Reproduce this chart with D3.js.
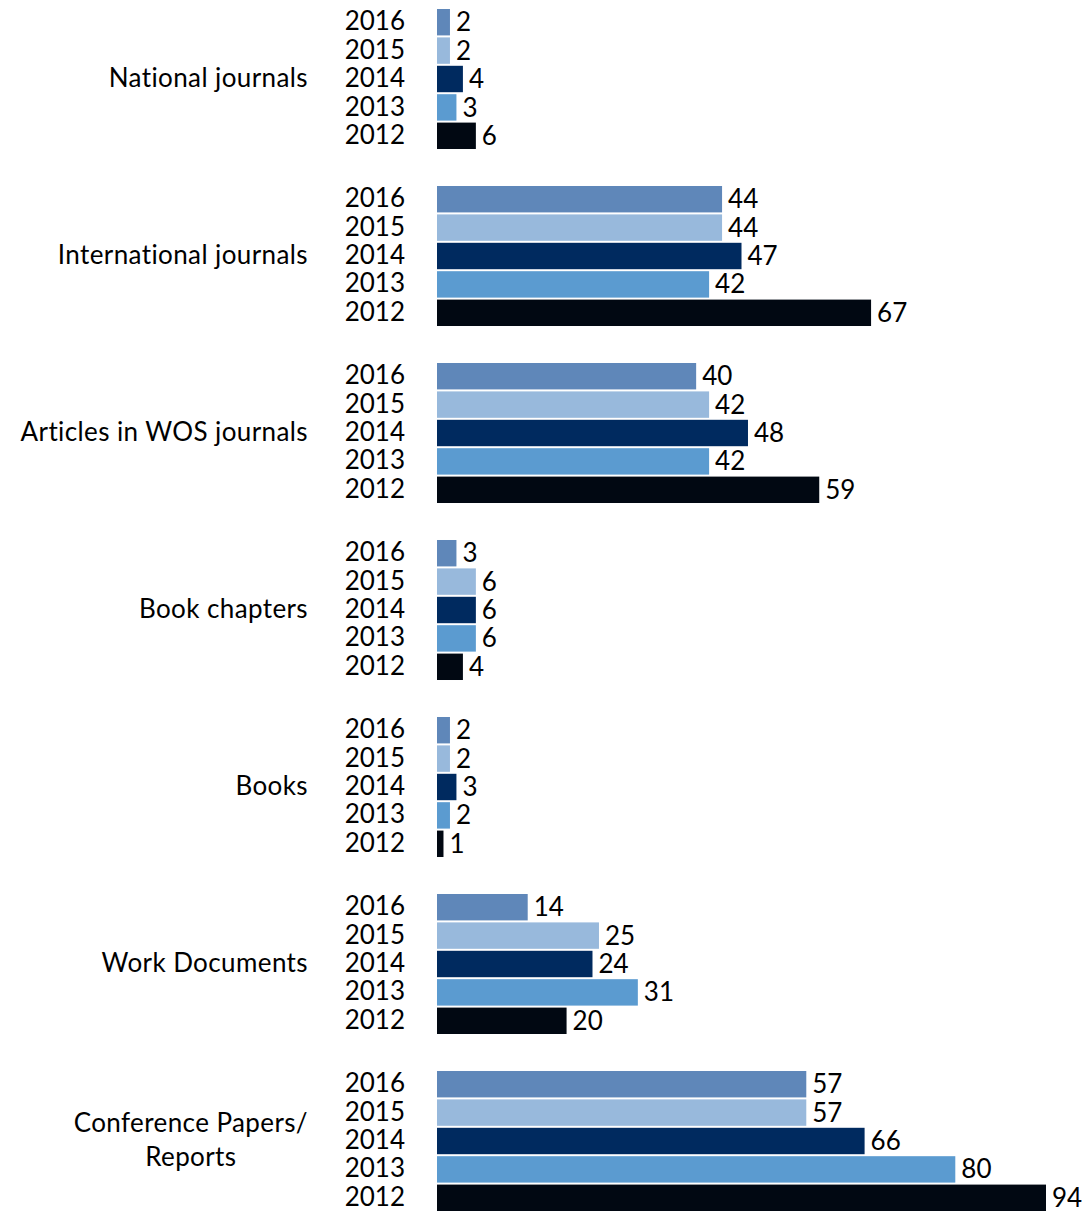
<!DOCTYPE html>
<html>
<head>
<meta charset="utf-8">
<script src="https://cdn.jsdelivr.net/npm/d3@7"></script>
<style>
  html, body { margin: 0; padding: 0; background: #ffffff; }
  svg text { font-family: "Lato", "Open Sans", sans-serif; fill: #000; }
</style>
</head>
<body>
<svg id="chart" width="1087" height="1214"></svg>
<script>
const categories = [
  "National journals",
  "International journals",
  "Articles in WOS journals",
  "Book chapters",
  "Books",
  "Work Documents",
  "Conference Papers/|Reports"
];
const years = ["2016", "2015", "2014", "2013", "2012"];
const values2016 = [2, 44, 40, 3, 2, 14, 57];
const values2015 = [2, 44, 42, 6, 2, 25, 57];
const values2014 = [4, 47, 48, 6, 3, 24, 66];
const values2013 = [3, 42, 42, 6, 2, 31, 80];
const values2012 = [6, 67, 59, 4, 1, 20, 94];
const yearColors = ["#5f87b9", "#98b9dc", "#002a5f", "#5b9bd0", "#010812"];

const seriesByYear = [values2016, values2015, values2014, values2013, values2012];
const rows = [];
categories.forEach((c, ci) => {
  years.forEach((y, yi) => {
    rows.push({ cat: c, year: y, yi: yi, value: seriesByYear[yi][ci] });
  });
});

const svg = d3.select("#chart");
const fontSize = 26;

const yOuter = d3.scaleBand().domain(categories).range([9, 1211]).paddingInner(0.209).paddingOuter(0);
const yInner = d3.scaleBand().domain(years).range([0, yOuter.bandwidth()]).paddingInner(0.07);
const x = d3.scaleLinear().domain([0, 94]).range([437, 1046]);
const color = d3.scaleOrdinal().domain(years).range(yearColors);

const groups = svg.selectAll("g.cat").data(categories).join("g")
  .attr("class", "cat")
  .attr("transform", d => `translate(0,${yOuter(d)})`);

// category labels
groups.each(function(d) {
  const g = d3.select(this);
  const lines = d.split("|");
  const lh = 34;
  const c = yOuter.bandwidth() / 2 - 1;
  const first = g.append("text")
    .attr("x", 308)
    .attr("y", c - (lines.length - 1) / 2 * lh)
    .attr("dy", "0.35em")
    .attr("text-anchor", "end")
    .attr("font-size", fontSize)
    .attr("letter-spacing", 0.4)
    .text(lines[0]);
  if (lines.length > 1) {
    const w = first.node().getComputedTextLength();
    const mid = 308 - w / 2;
    lines.slice(1).forEach((ln, i) => {
      g.append("text")
        .attr("x", mid)
        .attr("y", c + (i + 1 - (lines.length - 1) / 2) * lh)
        .attr("dy", "0.35em")
        .attr("text-anchor", "middle")
        .attr("font-size", fontSize)
        .attr("letter-spacing", 0.4)
        .text(ln);
    });
  }
});

// bars, years, values
groups.each(function(cat) {
  const g = d3.select(this);
  const data = rows.filter(r => r.cat === cat);
  g.selectAll("rect").data(data).join("rect")
    .attr("x", x(0))
    .attr("y", d => yInner(d.year))
    .attr("width", d => x(d.value) - x(0))
    .attr("height", yInner.bandwidth())
    .attr("fill", d => color(d.year));
  g.selectAll("text.year").data(data).join("text")
    .attr("class", "year")
    .attr("x", 405)
    .attr("y", d => yInner(d.year) + yInner.bandwidth() / 2 - 1)
    .attr("dy", "0.35em")
    .attr("text-anchor", "end")
    .attr("font-size", fontSize)
    .text(d => d.year);
  g.selectAll("text.val").data(data).join("text")
    .attr("class", "val")
    .attr("x", d => x(d.value) + 6)
    .attr("y", d => yInner(d.year) + yInner.bandwidth() / 2)
    .attr("dy", "0.35em")
    .attr("font-size", fontSize)
    .text(d => d.value);
});
</script>
</body>
</html>
